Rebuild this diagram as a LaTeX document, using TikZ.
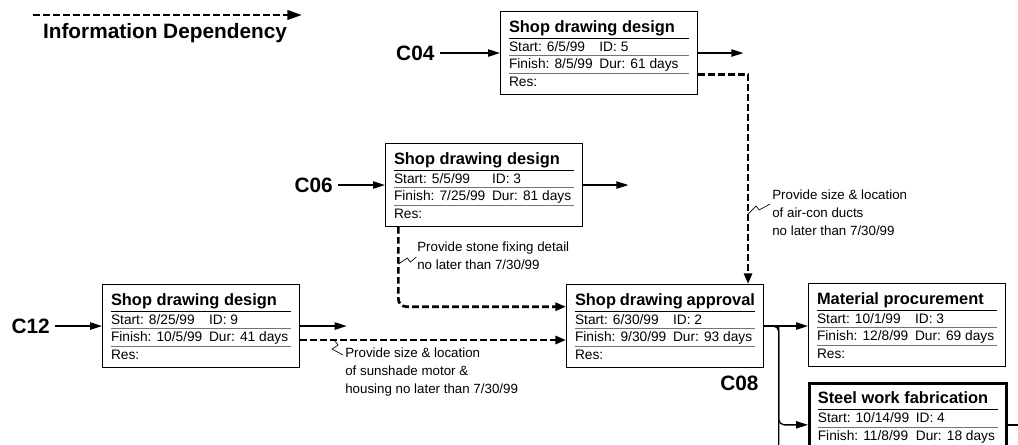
\documentclass[tikz,border=0pt]{standalone}
\usepackage{fontspec}
\setmainfont{Liberation Sans}
\usepackage{array}
\usepackage{colortbl}
\usetikzlibrary{arrows.meta, positioning}

\renewcommand{\arraystretch}{0.8}
\setlength{\extrarowheight}{0pt}
\setlength{\arrayrulewidth}{0.7pt}
\newcommand{\rowstrut}{\rule[-3.2pt]{0pt}{12.5pt}}
\newcommand{\titlestrut}{\rule[-4.2pt]{0pt}{16.55pt}}
\newcommand{\taskcard}[5]{%
  \fontsize{10.3}{12.5}\selectfont
  \begin{tabular}{@{}>{\rowstrut}l@{\hspace{5pt}}l@{}}
    \multicolumn{2}{@{}p{135pt}@{}}{\titlestrut\fontsize{12.3}{12.6}\selectfont\bfseries #1}\\
    \arrayrulecolor{black}\hline
    Start: #2 & ID: #3\\
    \arrayrulecolor{black!55}\hline
    Finish: #4 & Dur: #5\\
    \hline
    Res: &
  \end{tabular}}

\begin{document}
\begin{tikzpicture}[
  x=0.75pt, y=-0.75pt,
  task/.style={draw, line width=0.8pt, anchor=north west, inner xsep=6pt,
               inner ysep=3pt, minimum width=147.75pt, minimum height=62.25pt},
  lbl/.style={font=\fontsize{15.6}{18}\selectfont\bfseries, inner sep=4pt},
  note/.style={anchor=north west, align=left, inner sep=0pt,
               font=\fontsize{10}{13.5}\selectfont},
  arrow/.style={-{Triangle[length=9pt, width=5.5pt]}, line width=1pt},
  depend/.style={-{Triangle[length=8pt, width=6pt]}, line width=2pt,
                 dash pattern=on 5pt off 2.5pt},
  zig/.style={line width=0.5pt}
]
\useasboundingbox (0,0) rectangle (1018,444);
\clip (0,0) rectangle (1018,444);

\coordinate (lg1) at (33,15);
\coordinate (lg2) at (302,15);
\draw[depend, -{Triangle[length=11pt, width=7pt]}] (lg1) -- (lg2);
\node[lbl, inner sep=0pt] (legend) at (165,33) {Information Dependency};

\node[task] (c04) at (500,11) {\taskcard{Shop drawing design}{6/5/99}{5}{8/5/99}{61 days}};
\node[task] (c06) at (385,143) {\taskcard{Shop drawing design}{5/5/99}{3}{7/25/99}{81 days}};
\node[task] (c12) at (102,284) {\taskcard{Shop drawing design}{8/25/99}{9}{10/5/99}{41 days}};
\node[task] (appr) at (566,284) {\taskcard{Shop drawing approval}{6/30/99}{2}{9/30/99}{93 days}};
\node[task] (proc) at (808,283) {\taskcard{Material procurement}{10/1/99}{3}{12/8/99}{69 days}};
\node[task, line width=2pt] (steel) at (808,382) {\taskcard{Steel work fabrication}{10/14/99}{4}{11/8/99}{18 days}};

\node[lbl, left=45pt of c04] (l04) {C04};
\node[lbl, left=35pt of c06] (l06) {C06};
\node[lbl, left=35pt of c12] (l12) {C12};
\node[lbl, below left=1.5pt and 0pt of appr.south east] (l08) {C08};

\coordinate[right=34pt of c04] (o04);
\coordinate[right=34pt of c06] (o06);
\coordinate[right=35pt of c12] (o12);
\coordinate[right=20pt of steel] (next);
\coordinate (bend) at ([xshift=11pt]appr.east);
\coordinate (drop) at (bend |- 0,470);

\draw[arrow] (l04) -- (c04);
\draw[arrow] (l06) -- (c06);
\draw[arrow] (l12) -- (c12);
\draw[arrow] (c04) -- (o04);
\draw[arrow] (c06) -- (o06);
\draw[arrow] (c12) -- (o12);
\draw[arrow] (appr.east) -- (appr.east -| proc.west);
\draw[line width=1pt, rounded corners=4pt] (appr.east) -| (drop);
\draw[arrow, rounded corners=4pt] (bend) |- (steel.west);
\draw[line width=1pt] (steel) -- (next);

\coordinate (d04) at ([yshift=-16pt]c04.east);
\coordinate (a04) at ([xshift=-12pt]appr.north east);
\coordinate (d06) at ([xshift=10pt]c06.south west);
\coordinate (a06) at ([yshift=14.5pt]appr.west);
\coordinate (d12) at ([yshift=-10.5pt]c12.east);
\coordinate (a12) at (d12 -| appr.west);

\draw[depend] (d04) -| (a04);
\draw[depend, rounded corners=6pt] (d06) |- (a06);
\draw[depend] (d12) -- (a12);

\node[note] (n04) at (772,190) {Provide size \& location\\of air-con ducts\\no later than 7/30/99};
\node[note] (n06) at (417,242) {Provide stone fixing detail\\no later than 7/30/99};
\node[note] (n12) at (345,348) {Provide size \& location\\of sunshade motor \&\\housing no later than 7/30/99};

\path (a04) ++(0,-70) coordinate (z04);
\path (d06) ++(0,37) coordinate (z06);
\path (d12) ++(34,0) coordinate (z12);
\draw[zig] (z04) -- ++(8,-8) -- ++(3,4) -- ++(11,-6);
\draw[zig] (z06) -- ++(9,-6) -- ++(3,4) -- ++(6,-5);
\draw[zig] (z12) -- ++(4,5) -- ++(-6,4) -- ++(11,6);

\end{tikzpicture}
\end{document}
